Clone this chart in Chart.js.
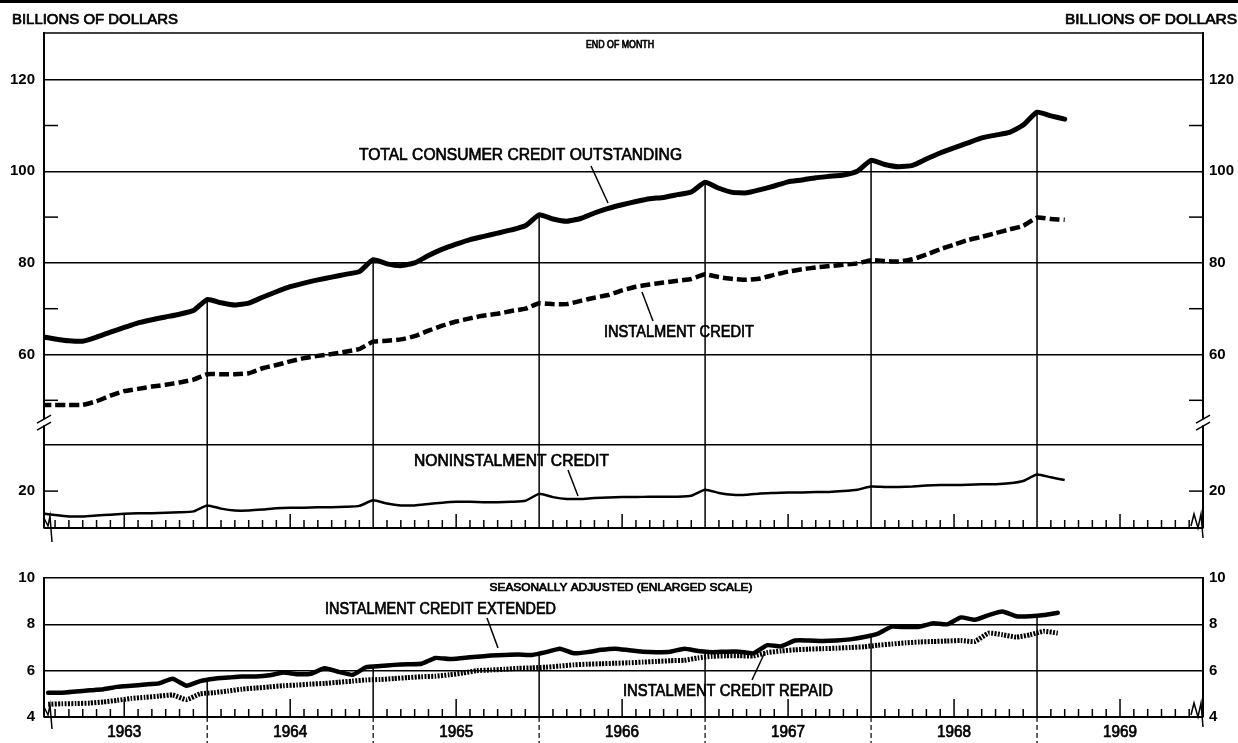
<!DOCTYPE html>
<html>
<head>
<meta charset="utf-8">
<title>Consumer credit</title>
<script src="https://cdn.jsdelivr.net/npm/chart.js@4.4.1/dist/chart.umd.min.js"></script>
<style>
  html, body { margin: 0; padding: 0; background: #fff; }
  #wrap { position: relative; width: 1238px; height: 743px; overflow: hidden; background: #fff; }
  canvas { position: absolute; left: 0; }
  #stocks { top: 0; }
  #flows { top: 560px; }
</style>
</head>
<body>
<div id="wrap">
  <canvas id="stocks" width="1238" height="560"></canvas>
  <canvas id="flows" width="1238" height="183"></canvas>
</div>
<script>
// ---------------------------------------------------------------------------
// Data (billions of dollars)
// Time axis: months elapsed since 1 January 1963.
// ---------------------------------------------------------------------------
const yearLabels = ['1963', '1964', '1965', '1966', '1967', '1968', '1969'];

// End-of-month amounts outstanding, December 1962 through February 1969
const totalOutstanding = [
  63.9, 63.4, 63.0, 62.9, 63.8, 64.9, 65.9, 66.9, 67.6, 68.2, 68.8, 69.6,
  72.0, 71.3, 70.8, 71.2, 72.5, 73.7, 74.8, 75.6, 76.3, 76.9, 77.5, 78.1,
  80.7, 79.8, 79.4, 80.0, 81.6, 83.0, 84.1, 85.1, 85.8, 86.5, 87.2, 88.1,
  90.5, 89.6, 89.1, 89.7, 90.9, 91.9, 92.7, 93.4, 94.0, 94.3, 94.9, 95.5,
  97.6, 96.3, 95.4, 95.3, 96.0, 96.8, 97.7, 98.1, 98.6, 98.9, 99.2, 100.0,
  102.4, 101.5, 101.0, 101.3, 102.7, 104.0, 105.1, 106.2, 107.3, 107.9, 108.5, 110.1,
  112.9, 112.1, 111.4
];
const instalmentCredit = [
  49.0, 49.0, 49.0, 49.0, 49.8, 51.0, 52.0, 52.5, 53.0, 53.4, 53.9, 54.5,
  55.7, 55.7, 55.7, 55.9, 57.0, 57.7, 58.5, 59.2, 59.7, 60.1, 60.6, 61.2,
  62.8, 63.0, 63.3, 64.0, 65.2, 66.3, 67.2, 67.9, 68.5, 68.9, 69.5, 70.0,
  71.2, 71.0, 71.0, 71.7, 72.4, 73.0, 74.0, 74.8, 75.3, 75.7, 76.1, 76.5,
  77.5, 76.9, 76.5, 76.3, 76.6, 77.4, 78.1, 78.6, 79.0, 79.3, 79.6, 79.9,
  80.6, 80.4, 80.3, 80.8, 81.8, 83.0, 84.0, 85.0, 85.7, 86.5, 87.3, 88.1,
  89.9, 89.6, 89.4
];
const noninstalmentCredit = [
  15.2, 14.8, 14.5, 14.5, 14.7, 14.9, 15.1, 15.2, 15.2, 15.3, 15.4, 15.6,
  16.9, 16.2, 15.8, 15.8, 16.0, 16.3, 16.4, 16.4, 16.5, 16.5, 16.6, 16.8,
  18.0, 17.3, 16.9, 16.9, 17.2, 17.5, 17.7, 17.7, 17.6, 17.6, 17.7, 17.9,
  19.4, 18.7, 18.3, 18.3, 18.5, 18.6, 18.7, 18.7, 18.8, 18.8, 18.8, 19.0,
  20.3, 19.6, 19.2, 19.2, 19.5, 19.6, 19.7, 19.7, 19.8, 19.8, 20.0, 20.3,
  21.0, 20.9, 20.9, 21.0, 21.2, 21.3, 21.3, 21.4, 21.5, 21.5, 21.7, 22.2,
  23.6, 23.0, 22.4
];

// Seasonally adjusted monthly flows, January 1963 through February 1969
const creditExtended = [
  5.05, 5.05, 5.10, 5.15, 5.20, 5.30, 5.35, 5.40, 5.45, 5.65, 5.35, 5.55,
  5.65, 5.70, 5.75, 5.75, 5.80, 5.92, 5.85, 5.87, 6.10, 5.95, 5.82, 6.15,
  6.20, 6.25, 6.28, 6.30, 6.55, 6.50, 6.55, 6.60, 6.65, 6.68, 6.70, 6.68,
  6.80, 6.95, 6.75, 6.80, 6.90, 6.95, 6.88, 6.82, 6.80, 6.82, 6.95, 6.85,
  6.80, 6.82, 6.82, 6.75, 7.10, 7.05, 7.30, 7.30, 7.28, 7.30, 7.35, 7.45,
  7.60, 7.90, 7.88, 7.90, 8.05, 8.00, 8.30, 8.20, 8.40, 8.55, 8.35, 8.35,
  8.40, 8.50
];
const creditRepaid = [
  4.55, 4.57, 4.58, 4.60, 4.65, 4.72, 4.80, 4.85, 4.90, 4.95, 4.75, 5.00,
  5.05, 5.12, 5.20, 5.25, 5.30, 5.35, 5.38, 5.42, 5.45, 5.50, 5.55, 5.60,
  5.62, 5.66, 5.70, 5.74, 5.76, 5.82, 5.90, 6.00, 6.03, 6.06, 6.10, 6.12,
  6.15, 6.20, 6.25, 6.28, 6.30, 6.32, 6.34, 6.37, 6.40, 6.43, 6.45, 6.55,
  6.62, 6.64, 6.64, 6.64, 6.78, 6.85, 6.90, 6.93, 6.95, 6.97, 7.00, 7.03,
  7.10, 7.15, 7.20, 7.24, 7.26, 7.28, 7.30, 7.26, 7.62, 7.55, 7.45, 7.55,
  7.70, 7.62
];

// Value-axis ticks
const upperTicks = [50, 60, 70, 80, 90, 100, 110, 120];
const upperLabelled = [60, 80, 100, 120];
const lowerTicks = [20, 30];
const lowerLabelled = [20];
const flowTicks = [4, 6, 8, 10];

// ---------------------------------------------------------------------------
const FONT = '"Liberation Sans", Arial, sans-serif';
const INK = '#000';
const CLEAR = 'rgba(0,0,0,0)';

const endOfMonth = arr => arr.map((v, i) => ({ x: i, y: v }));       // point 0 = end of Dec 1962
const midMonth = arr => arr.map((v, i) => ({ x: i + 0.5, y: v }));   // point 0 = mid Jan 1963

const timeAxis = { type: 'linear', min: 0.2, max: 84, display: false };
const leftFit = s => { s.width = 44; };
const rightFit = s => { s.width = 35; };

function valueAxis(side, stack, weight, min, max, ticks, labelled, gridOn) {
  return {
    type: 'linear', position: side, stack: stack, stackWeight: weight,
    min: min, max: max,
    afterBuildTicks: s => { s.ticks = ticks.map(v => ({ value: v })); },
    afterFit: side === 'left' ? leftFit : rightFit,
    ticks: {
      autoSkip: false, padding: side === 'left' ? 9 : 6, color: INK,
      font: { family: FONT, size: 15, weight: 'bold' },
      callback: v => labelled.includes(v) ? String(v) : ''
    },
    grid: {
      display: side === 'left', drawTicks: false, lineWidth: 1.5,
      color: c => (c.tick && gridOn.includes(c.tick.value)) ? INK : CLEAR
    },
    border: { display: true, color: INK, width: 2 }
  };
}

function strokeLine(ctx, x1, y1, x2, y2, w) {
  ctx.lineWidth = w;
  ctx.beginPath(); ctx.moveTo(x1, y1); ctx.lineTo(x2, y2); ctx.stroke();
}
function strokePath(ctx, pts, w) {
  ctx.lineWidth = w;
  ctx.beginPath();
  pts.forEach((p, i) => i ? ctx.lineTo(p[0], p[1]) : ctx.moveTo(p[0], p[1]));
  ctx.stroke();
}
// caption text stretched to a set width, left edge at x, vertically centred on y
function caption(ctx, text, x, y, width, size) {
  ctx.save();
  ctx.font = size + 'px ' + FONT;
  ctx.textAlign = 'left';
  ctx.textBaseline = 'middle';
  const w = ctx.measureText(text).width;
  ctx.translate(x, y);
  ctx.scale(width / w, 1);
  ctx.fillStyle = INK;
  ctx.strokeStyle = INK;
  ctx.lineWidth = 0.7;
  ctx.lineJoin = 'round';
  ctx.fillText(text, 0, 0);
  ctx.strokeText(text, 0, 0);
  ctx.restore();
}
function centredText(ctx, text, cx, y, width, size) {
  caption(ctx, text, cx - width / 2, y, width, size);
}

// month tick marks rising from the time axis
function monthTicks(ctx, x, base, shortLen, longLen) {
  for (let k = 1; k < 84; k++) {
    if (k % 12 === 0) continue;
    const px = x.getPixelForValue(k);
    strokeLine(ctx, px, base, px, base - (k % 12 === 6 ? longLen : shortLen), 1.5);
  }
}

// ---------------------------------------------------------------------------
// Upper panel: amounts outstanding (broken value scale)
// ---------------------------------------------------------------------------
const stockDecor = {
  id: 'stockDecor',
  afterDraw(chart) {
    const { ctx, chartArea: a, scales: { x, yUp, yLow } } = chart;
    ctx.save();
    ctx.strokeStyle = INK; ctx.fillStyle = INK; ctx.lineCap = 'butt';

    ctx.fillRect(0, 0, chart.width, 3);
    strokeLine(ctx, a.left, a.top, a.right, a.top, 1.5);
    strokeLine(ctx, a.left, a.bottom, a.right, a.bottom, 2);

    // short value ticks pointing into the plot from both sides
    const inward = (y) => { strokeLine(ctx, a.left, y, a.left + 14, y, 1.5); strokeLine(ctx, a.right - 14, y, a.right, y, 1.5); };
    upperTicks.filter(v => !upperLabelled.includes(v)).forEach(v => inward(yUp.getPixelForValue(v)));
    lowerLabelled.forEach(v => inward(yLow.getPixelForValue(v)));

    monthTicks(ctx, x, a.bottom, 8, 14);

    // year-end drop lines from the total
    for (let k = 12; k <= 72; k += 12) {
      const px = x.getPixelForValue(k);
      strokeLine(ctx, px, yUp.getPixelForValue(totalOutstanding[k]), px, a.bottom, 1.5);
    }

    // scale breaks
    const yb = yUp.getPixelForValue(45);
    [a.left, a.right].forEach(ax => {
      ctx.fillStyle = '#fff';
      ctx.fillRect(ax - 2, yb - 4, 4, 6);
      ctx.fillStyle = INK;
      strokeLine(ctx, ax - 7, yb, ax + 7, yb - 8, 1.5);
      strokeLine(ctx, ax - 7, yb + 7, ax + 7, yb - 1, 1.5);
    });
    strokePath(ctx, [[a.left, a.bottom - 10], [a.left + 4, a.bottom - 2], [a.left + 6, a.bottom - 12], [a.left + 8, a.bottom + 14]], 1.5);
    strokePath(ctx, [[a.right - 12, a.bottom - 2], [a.right - 9, a.bottom - 14], [a.right - 5, a.bottom], [a.right - 2, a.bottom - 14], [a.right, a.bottom + 10]], 1.5);

    // headings
    caption(ctx, 'BILLIONS OF DOLLARS', 12, 20, 166, 14);
    caption(ctx, 'BILLIONS OF DOLLARS', 1065, 20, 172, 14);
    centredText(ctx, 'END OF MONTH', 620, 45, 68, 10);

    // series captions with leaders
    caption(ctx, 'TOTAL CONSUMER CREDIT OUTSTANDING', 359, 156, 323, 16);
    strokeLine(ctx, 591, 166, 608, 203, 1.5);
    caption(ctx, 'INSTALMENT CREDIT', 604, 333, 150, 16);
    strokeLine(ctx, 653, 321, 642, 292, 1.5);
    caption(ctx, 'NONINSTALMENT CREDIT', 414, 462, 195, 16);
    strokeLine(ctx, 568, 470, 578, 496, 1.5);
    ctx.restore();
  }
};

// left-hand stacked scales are laid out in reverse definition order, so the
// lower segment is declared first to keep the upper segment on top
new Chart(document.getElementById('stocks'), {
  type: 'line',
  data: {
    datasets: [
      { label: 'Total consumer credit outstanding', data: endOfMonth(totalOutstanding), yAxisID: 'yUp',
        borderColor: INK, borderWidth: 5, pointRadius: 0, tension: 0.15,
        borderJoinStyle: 'round', borderCapStyle: 'round', fill: false },
      { label: 'Instalment credit', data: endOfMonth(instalmentCredit), yAxisID: 'yUp',
        borderColor: INK, borderWidth: 4.5, borderDash: [10, 4], pointRadius: 0, tension: 0.15,
        borderCapStyle: 'butt', fill: false },
      { label: 'Noninstalment credit', data: endOfMonth(noninstalmentCredit), yAxisID: 'yLow',
        borderColor: INK, borderWidth: 2.5, pointRadius: 0, tension: 0.15,
        borderJoinStyle: 'round', fill: false }
    ]
  },
  options: {
    responsive: false, maintainAspectRatio: false, animation: false,
    layout: { padding: { top: 33, bottom: 32, left: 0, right: 0 } },
    plugins: { legend: { display: false }, tooltip: { enabled: false } },
    scales: {
      x: timeAxis,
      yLow: valueAxis('left', 'L', 83, 12, 30, lowerTicks, lowerLabelled, [30]),
      yUp: valueAxis('left', 'L', 412, 40.24, 130.2, upperTicks, upperLabelled, upperLabelled),
      yUpR: valueAxis('right', 'R', 412, 40.24, 130.2, upperTicks, upperLabelled, []),
      yLowR: valueAxis('right', 'R', 83, 12, 30, lowerTicks, lowerLabelled, [])
    }
  },
  plugins: [stockDecor]
});

// ---------------------------------------------------------------------------
// Lower panel: seasonally adjusted flows
// ---------------------------------------------------------------------------
const flowDecor = {
  id: 'flowDecor',
  afterDraw(chart) {
    const { ctx, chartArea: a, scales: { x, yB } } = chart;
    ctx.save();
    ctx.strokeStyle = INK; ctx.fillStyle = INK;

    strokeLine(ctx, a.left, a.bottom, a.right, a.bottom, 2);
    monthTicks(ctx, x, a.bottom, 8, 18);

    for (let k = 12; k <= 72; k += 12) {
      const px = x.getPixelForValue(k);
      const v = (creditExtended[k - 1] + creditExtended[k]) / 2;
      strokeLine(ctx, px, yB.getPixelForValue(v), px, a.bottom, 1.5);
      ctx.setLineDash([5, 3]);
      strokeLine(ctx, px, a.bottom, px, chart.height, 1.2);
      ctx.setLineDash([]);
    }

    // broken time axis at both ends
    strokePath(ctx, [[a.left, a.bottom - 10], [a.left + 4, a.bottom - 2], [a.left + 6, a.bottom - 12], [a.left + 8, a.bottom + 12]], 1.5);
    strokePath(ctx, [[a.right - 12, a.bottom - 2], [a.right - 9, a.bottom - 14], [a.right - 5, a.bottom], [a.right - 2, a.bottom - 14], [a.right, a.bottom + 10]], 1.5);

    yearLabels.forEach((lab, i) => centredText(ctx, lab, x.getPixelForValue(12 * i + 6), 173, 34, 16));

    centredText(ctx, 'SEASONALLY ADJUSTED (ENLARGED SCALE)', 621, 28, 263, 11);
    caption(ctx, 'INSTALMENT CREDIT EXTENDED', 325, 50, 231, 16);
    strokeLine(ctx, 487, 58, 498, 88, 1.5);
    caption(ctx, 'INSTALMENT CREDIT REPAID', 623, 132, 210, 16);
    strokeLine(ctx, 752, 120, 765, 92, 1.5);
    ctx.restore();
  }
};

new Chart(document.getElementById('flows'), {
  type: 'line',
  data: {
    datasets: [
      { label: 'Instalment credit extended', data: midMonth(creditExtended), yAxisID: 'yB',
        borderColor: INK, borderWidth: 4.5, pointRadius: 0, tension: 0.15,
        borderJoinStyle: 'round', borderCapStyle: 'round', fill: false },
      { label: 'Instalment credit repaid', data: midMonth(creditRepaid), yAxisID: 'yB',
        borderColor: INK, borderWidth: 5, borderDash: [2, 1.3], pointRadius: 0, tension: 0.15,
        borderCapStyle: 'butt', fill: false }
    ]
  },
  options: {
    responsive: false, maintainAspectRatio: false, animation: false,
    layout: { padding: { top: 13, bottom: 26, left: 0, right: 0 } },
    plugins: { legend: { display: false }, tooltip: { enabled: false } },
    scales: {
      x: timeAxis,
      yB: valueAxis('left', 'BL', 1, 4, 10, flowTicks, flowTicks, flowTicks),
      yBR: valueAxis('right', 'BR', 1, 4, 10, flowTicks, flowTicks, [])
    }
  },
  plugins: [flowDecor]
});
</script>
</body>
</html>
